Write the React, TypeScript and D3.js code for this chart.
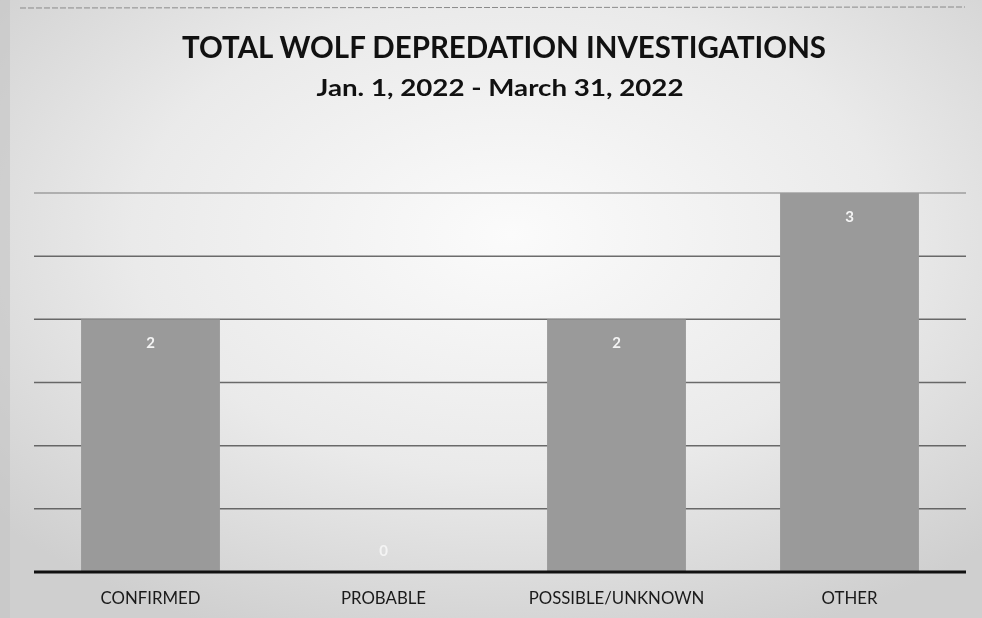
import * as d3 from 'd3'

const categories = ['CONFIRMED', 'PROBABLE', 'POSSIBLE/UNKNOWN', 'OTHER']
const counts = [2, 0, 2, 3]
const gridTicks = [0.5, 1, 1.5, 2, 2.5, 3]

const title = 'TOTAL WOLF DEPREDATION INVESTIGATIONS'
const subtitle = 'Jan. 1, 2022 - March 31, 2022'

const font = "Lato, 'Open Sans', sans-serif"

export default function App() {
  const width = 982
  const height = 618
  const margin = { top: 0, right: 16, bottom: 46, left: 34 }
  const baseY = 572

  const x = d3
    .scaleBand<string>()
    .domain(categories)
    .range([margin.left, width - margin.right])
    .paddingInner(0.404)
    .paddingOuter(0.202)

  const y = d3.scaleLinear().domain([0, 3]).range([baseY, 193])

  return (
    <svg
      width={width}
      height={height}
      style={{ position: 'fixed', top: 0, left: 0 }}
      fontFamily={font}
    >
      <defs>
        <radialGradient id="paper" cx="52%" cy="38%" r="70%">
          <stop offset="0%" stopColor="#fbfbfb" />
          <stop offset="55%" stopColor="#eaeaea" />
          <stop offset="100%" stopColor="#cfcfcf" />
        </radialGradient>
      </defs>
      <rect width={width} height={height} fill="url(#paper)" />
      <line x1={20} x2={965} y1={8} y2={7} stroke="#8a8a8a" strokeWidth={1} strokeDasharray="6 2" />
      <rect x={0} y={0} width={10} height={height} fill="#c4c4c4" opacity={0.6} />

      <text
        x={504}
        y={58}
        textAnchor="middle"
        fontSize={30}
        fontWeight={700}
        fill="#111"
        textLength={644}
        lengthAdjust="spacingAndGlyphs"
      >
        {title}
      </text>
      <text
        x={500}
        y={96}
        textAnchor="middle"
        fontSize={22.5}
        fontWeight={700}
        fill="#111"
        textLength={367}
        lengthAdjust="spacingAndGlyphs"
      >
        {subtitle}
      </text>

      {gridTicks.map((t) => (
        <line
          key={t}
          x1={margin.left}
          x2={width - margin.right}
          y1={y(t)}
          y2={y(t)}
          stroke="#4a4a4a"
          strokeWidth={1.5}
          opacity={t === 3 ? 0.45 : 0.8}
        />
      ))}

      {categories.map((c, i) => (
        <g key={c}>
          <rect
            x={x(c)}
            y={y(counts[i])}
            width={x.bandwidth()}
            height={baseY - y(counts[i])}
            fill="#9a9a9a"
          />
          <text
            x={(x(c) ?? 0) + x.bandwidth() / 2}
            y={counts[i] > 0 ? y(counts[i]) + 29 : baseY - 16}
            textAnchor="middle"
            fontSize={15}
            fontWeight={700}
            fill="#f4f4f4"
          >
            {counts[i]}
          </text>
          <text
            x={(x(c) ?? 0) + x.bandwidth() / 2}
            y={604}
            textAnchor="middle"
            fontSize={16.8}
            fill="#1a1a1a"
          >
            {c}
          </text>
        </g>
      ))}

      <line
        x1={margin.left}
        x2={width - margin.right}
        y1={baseY}
        y2={baseY}
        stroke="#111"
        strokeWidth={3}
      />
    </svg>
  )
}
